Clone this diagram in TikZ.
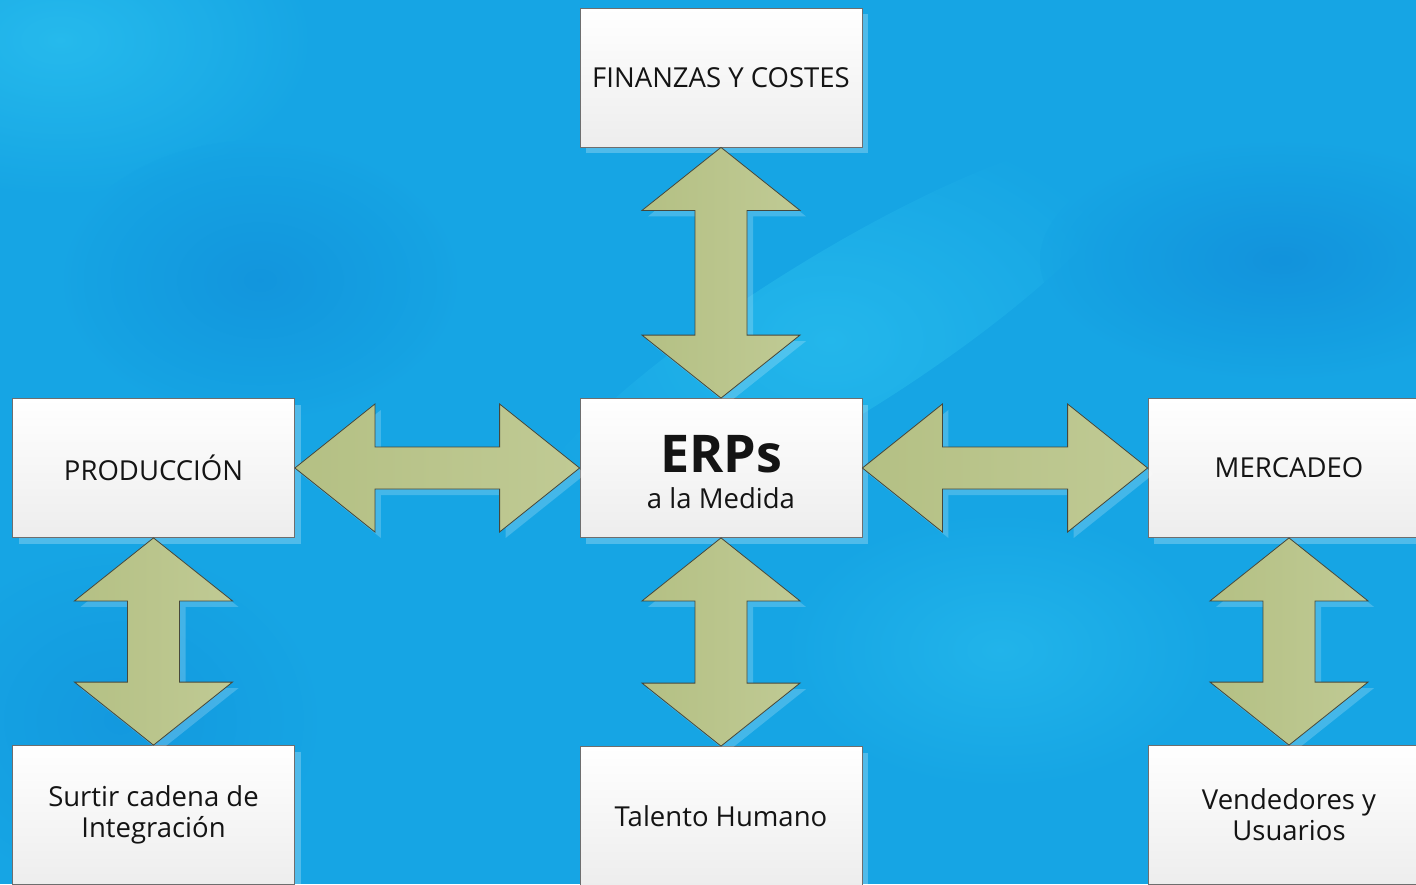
\documentclass[tikz,border=0pt]{standalone}
\usepackage{fontspec}
\setmainfont{Open Sans}
\usetikzlibrary{calc,shadows}
\definecolor{bgblue}{RGB}{22,165,228}
\definecolor{bglight}{RGB}{45,195,240}
\definecolor{bgdark}{RGB}{16,135,215}
\definecolor{arrowfill}{RGB}{192,202,148}
\definecolor{arrowfilldark}{RGB}{180,192,132}
\definecolor{arrowline}{RGB}{70,72,60}
\definecolor{boxline}{RGB}{110,110,110}
\definecolor{txt}{RGB}{20,20,20}
\tikzset{
  boxtext/.style={align=center, text=txt, inner sep=0pt, font=\fontsize{27.5}{31}\selectfont},
  box/.style={boxtext, draw=boxline, line width=0.8pt, top color=white, bottom color=black!7,
    minimum width=282, minimum height=139,
    drop shadow={shadow xshift=6pt, shadow yshift=-6pt, fill=white, opacity=0.25}},
  fatarrow/.style={draw=arrowline, line width=0.8pt, left color=arrowfilldark, right color=arrowfill,
    drop shadow={shadow xshift=6pt, shadow yshift=-6pt, fill=white, opacity=0.2}}
}
\newcommand\vdarrow[2]{%
  \path[fatarrow] (#1.south) -- ($(#1.south)+(79,63)$) -- ($(#1.south)+(26,63)$)
    -- ($(#2.north)+(26,-63)$) -- ($(#2.north)+(79,-63)$) -- (#2.north)
    -- ($(#2.north)+(-79,-63)$) -- ($(#2.north)+(-26,-63)$)
    -- ($(#1.south)+(-26,63)$) -- ($(#1.south)+(-79,63)$) -- cycle;}
\newcommand\hdarrow[2]{%
  \path[fatarrow] (#1.east) -- ($(#1.east)+(80,-64)$) -- ($(#1.east)+(80,-21)$)
    -- ($(#2.west)+(-80,-21)$) -- ($(#2.west)+(-80,-64)$) -- (#2.west)
    -- ($(#2.west)+(-80,64)$) -- ($(#2.west)+(-80,21)$)
    -- ($(#1.east)+(80,21)$) -- ($(#1.east)+(80,64)$) -- cycle;}
\begin{document}
\begin{tikzpicture}[x=1pt,y=-1pt]
\useasboundingbox (0,0) rectangle (1416,884);
\clip (0,0) rectangle (1416,884);
% background
\fill[bgblue] (0,0) rectangle (1416,884);
\shade[inner color=bglight, outer color=bgblue, opacity=0.7] (60,40) ellipse (260 and 160);
\shade[inner color=bglight, outer color=bgblue, opacity=0.6, rotate around={32:(830,340)}] (830,340) ellipse (360 and 80);
\shade[inner color=bgdark, outer color=bgblue, opacity=0.6] (1280,260) ellipse (240 and 120);
\shade[inner color=bgdark, outer color=bgblue, opacity=0.5] (260,280) ellipse (200 and 140);
\shade[inner color=bgdark, outer color=bgblue, opacity=0.4] (120,720) ellipse (200 and 170);
\shade[inner color=bglight, outer color=bgblue, opacity=0.5] (1000,650) ellipse (220 and 140);
% boxes
\node[box] (fin) at (721,77.5) {FINANZAS Y COSTES};
\node[box] (erp) at (721,468) {};
\node[boxtext] (erptext) at (721,472) {{\fontsize{52}{50}\selectfont\bfseries ERPs}\\[5pt]a la Medida};
\node[box] (prod) at (153.5,468) {PRODUCCIÓN};
\node[box] (merc) at (1289,468) {MERCADEO};
\node[box] (surt) at (153.5,815) {Surtir cadena de\\Integración};
\node[box] (tal) at (721,816) {Talento Humano};
\node[box] (vend) at (1289,815) {Vendedores y\\Usuarios};
% arrows
\vdarrow{fin}{erp}
\hdarrow{prod}{erp}
\hdarrow{erp}{merc}
\vdarrow{prod}{surt}
\vdarrow{erp}{tal}
\vdarrow{merc}{vend}
\end{tikzpicture}
\end{document}
